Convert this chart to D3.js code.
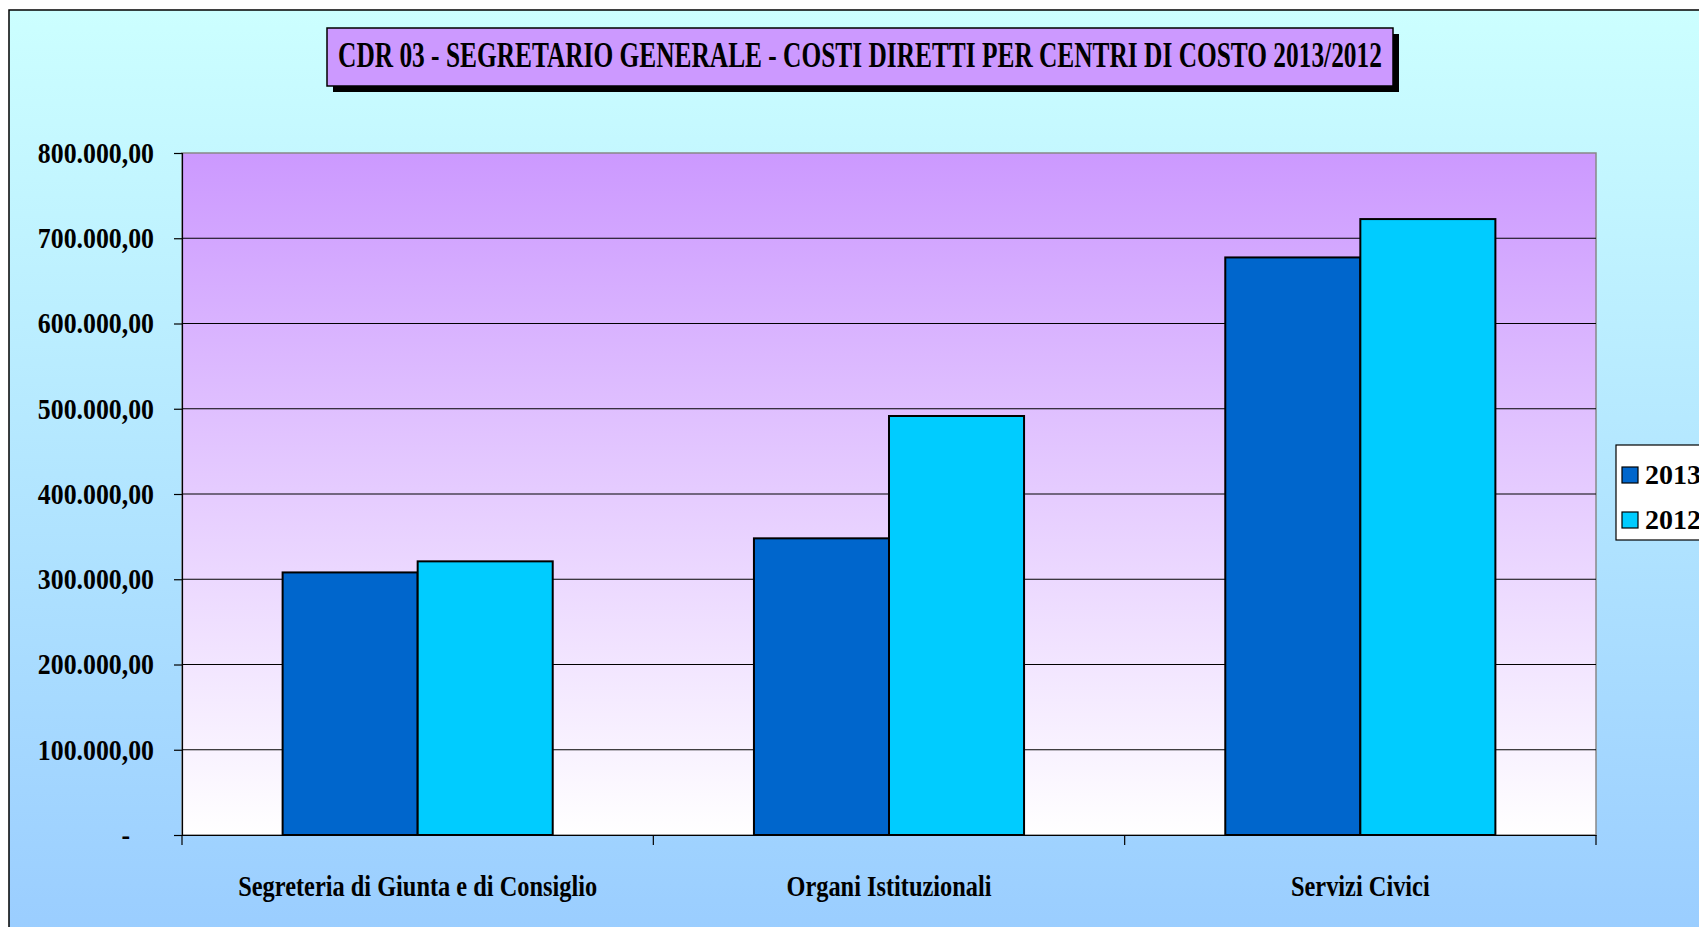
<!DOCTYPE html>
<html>
<head>
<meta charset="utf-8">
<script src="https://cdn.jsdelivr.net/npm/d3@7"></script>
<style>
  body { margin: 0; background: #fff; }
  text { font-family: "Liberation Serif", "Times New Roman", serif; font-weight: bold; fill: #000; }
</style>
</head>
<body>
<div id="canvas"></div>
<script>
const w = 1699;
const h = 927;
const margin = { top: 153, bottom: 92, left: 182, right: 103 };

// data
const categories = ["Segreteria di Giunta e di Consiglio", "Organi Istituzionali", "Servizi Civici"];
const seriesNames = ["2013", "2012"];
const values2013 = [308000, 348000, 677500];
const values2012 = [321000, 491500, 722500];
const yTicks = [0, 100000, 200000, 300000, 400000, 500000, 600000, 700000, 800000];
const colors = ["#0066CC", "#00CCFF"];
const title = "CDR 03 - SEGRETARIO GENERALE - COSTI DIRETTI PER CENTRI DI COSTO 2013/2012";

const seriesValues = [values2013, values2012];

const svg = d3.select("#canvas").append("svg")
  .attr("width", w).attr("height", h);

const defs = svg.append("defs");
const bgGrad = defs.append("linearGradient").attr("id", "bgGrad")
  .attr("x1", 0).attr("y1", 0).attr("x2", 0).attr("y2", 1);
bgGrad.append("stop").attr("offset", "0%").attr("stop-color", "#CCFFFF");
bgGrad.append("stop").attr("offset", "100%").attr("stop-color", "#99CCFF");

const plotGrad = defs.append("linearGradient").attr("id", "plotGrad")
  .attr("x1", 0).attr("y1", 0).attr("x2", 0).attr("y2", 1);
plotGrad.append("stop").attr("offset", "0%").attr("stop-color", "#CC99FF");
plotGrad.append("stop").attr("offset", "100%").attr("stop-color", "#FFFFFF");

// squeeze text horizontally like the condensed original
function squeeze(sel, k) {
  sel.each(function() {
    const len = this.getComputedTextLength();
    d3.select(this).attr("textLength", len * k).attr("lengthAdjust", "spacingAndGlyphs");
  });
}

// chart area
svg.append("rect")
  .attr("x", 9).attr("y", 10)
  .attr("width", w + 20).attr("height", h + 20)
  .attr("fill", "url(#bgGrad)")
  .attr("stroke", "#000").attr("stroke-width", 1.5);

const plotW = w - margin.left - margin.right;
const plotH = h - margin.top - margin.bottom;

const x0 = d3.scaleBand().domain(categories)
  .range([margin.left, margin.left + plotW]).paddingInner(0).paddingOuter(0);
const x1 = d3.scaleBand().domain(seriesNames)
  .range([0, x0.bandwidth()]).paddingInner(0).paddingOuter(0.745);
const y = d3.scaleLinear().domain([0, 800000]).range([margin.top + plotH, margin.top]);

const it = d3.formatLocale({ decimal: ",", thousands: ".", grouping: [3], currency: ["", ""] });
const fmt = it.format(",.2f");

// plot background
svg.append("rect")
  .attr("x", margin.left).attr("y", margin.top)
  .attr("width", plotW).attr("height", plotH)
  .attr("fill", "url(#plotGrad)")
  .attr("stroke", "#888").attr("stroke-width", 1.5);

// gridlines
svg.append("g").selectAll("line")
  .data(yTicks.filter(d => d > 0 && d < 800000))
  .enter().append("line")
  .attr("x1", margin.left).attr("x2", margin.left + plotW)
  .attr("y1", d => y(d)).attr("y2", d => y(d))
  .attr("stroke", "#000").attr("stroke-width", 1.2);

// bars
const groups = svg.append("g").selectAll("g")
  .data(categories).enter().append("g")
  .attr("transform", d => "translate(" + x0(d) + ",0)");

groups.selectAll("rect")
  .data((d, i) => seriesNames.map((s, j) => ({ s: s, v: seriesValues[j][i], c: colors[j] })))
  .enter().append("rect")
  .attr("x", d => x1(d.s))
  .attr("y", d => y(d.v))
  .attr("width", x1.bandwidth())
  .attr("height", d => y(0) - y(d.v))
  .attr("fill", d => d.c)
  .attr("stroke", "#000").attr("stroke-width", 2);

// y axis
const yAxis = d3.axisLeft(y).tickValues(yTicks).tickSize(8).tickPadding(20)
  .tickFormat(d => d === 0 ? "-" : fmt(d));
const yG = svg.append("g")
  .attr("transform", "translate(" + margin.left + ",0)")
  .call(yAxis);
yG.select(".domain").attr("stroke", "#000").attr("stroke-width", 1.2);
yG.selectAll(".tick line").attr("stroke", "#000").attr("stroke-width", 1.2);
yG.selectAll("text")
  .attr("font-size", 29).attr("fill", "#000")
  .attr("font-family", null);
yG.selectAll(".tick text").filter(d => d === 0).attr("dx", -24);
squeeze(yG.selectAll(".tick text"), 0.89);

// x axis
const xAxis = d3.axisBottom(x0).tickSize(0).tickPadding(40);
const xG = svg.append("g")
  .attr("transform", "translate(0," + (margin.top + plotH) + ")")
  .call(xAxis);
xG.select(".domain").attr("stroke", "#000").attr("stroke-width", 1.2);
xG.selectAll("text").attr("font-size", 29).attr("fill", "#000").attr("font-family", null);
squeeze(xG.selectAll(".tick text"), 0.84);

// category separators
xG.selectAll(".sep")
  .data(categories.concat(["end"]))
  .enter().append("line")
  .attr("x1", (d, i) => i < categories.length ? x0(d) : margin.left + plotW)
  .attr("x2", (d, i) => i < categories.length ? x0(d) : margin.left + plotW)
  .attr("y1", 0).attr("y2", 10)
  .attr("stroke", "#000").attr("stroke-width", 1.2);

// title
const tb = { x: 327, y: 28, w: 1066, h: 58 };
svg.append("rect").attr("x", tb.x + 6).attr("y", tb.y + 6)
  .attr("width", tb.w).attr("height", tb.h).attr("fill", "#000");
svg.append("rect").attr("x", tb.x).attr("y", tb.y)
  .attr("width", tb.w).attr("height", tb.h)
  .attr("fill", "#CC99FF").attr("stroke", "#000").attr("stroke-width", 1.5);
const titleText = svg.append("text")
  .attr("x", tb.x + tb.w / 2).attr("y", tb.y + 39)
  .attr("text-anchor", "middle").attr("font-size", 35)
  .text(title);
squeeze(titleText, 0.725);

// legend
const legend = svg.append("g").attr("transform", "translate(1616,445)");
legend.append("rect").attr("width", 200).attr("height", 95)
  .attr("fill", "#fff").attr("stroke", "#000").attr("stroke-width", 1.2);
const items = legend.selectAll(".item").data(seriesNames).enter().append("g")
  .attr("transform", (d, i) => "translate(6," + (22 + i * 45) + ")");
items.append("rect").attr("width", 16).attr("height", 16)
  .attr("fill", (d, i) => colors[i]).attr("stroke", "#000").attr("stroke-width", 1.2);
items.append("text").attr("x", 23).attr("y", 17).attr("font-size", 28).text(d => d);
</script>
</body>
</html>
